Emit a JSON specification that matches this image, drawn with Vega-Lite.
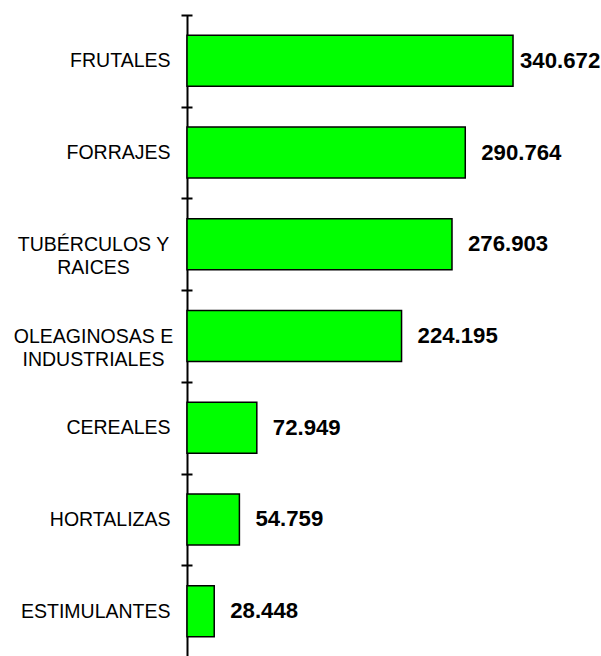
{
  "$schema": "https://vega.github.io/schema/vega-lite/v6.json",
  "width": 414,
  "height": 642,
  "autosize": {"type": "none"},
  "padding": {"left": 187, "top": 15, "right": 0, "bottom": 0},
  "background": "white",
  "config": {"view": {"stroke": null}, "font": "Liberation Sans"},
  "data": {
    "values": [
      {"cat": "FRUTALES", "value": 340.672},
      {"cat": "FORRAJES", "value": 290.764},
      {"cat": "TUBÉRCULOS Y|RAICES", "value": 276.903},
      {"cat": "OLEAGINOSAS E|INDUSTRIALES", "value": 224.195},
      {"cat": "CEREALES", "value": 72.949},
      {"cat": "HORTALIZAS", "value": 54.759},
      {"cat": "ESTIMULANTES", "value": 28.448}
    ]
  },
  "layer": [
    {
      "mark": {"type": "bar", "fill": "#00FF00", "stroke": "black", "strokeWidth": 1.5, "height": {"band": 0.556}},
      "encoding": {
        "y": {
          "field": "cat",
          "type": "nominal",
          "sort": null,
          "scale": {"paddingInner": 0, "paddingOuter": 0},
          "title": null,
          "axis": {
            "orient": "left",
            "offset": -5,
            "domain": false,
            "ticks": true,
            "tickBand": "extent",
            "tickSize": 11,
            "tickWidth": 2,
            "tickColor": "black",
            "labelPadding": 11,
            "labelAlign": "right",
            "labelFont": "Liberation Sans",
            "labelFontSize": 19.5,
            "labelColor": "black",
            "labelLimit": 400,
            "labelExpr": "datum.value && indexof(datum.value, '|') < 0 ? datum.value : ''"
          }
        },
        "x": {
          "field": "value",
          "type": "quantitative",
          "scale": {"domain": [0, 432.6], "nice": false},
          "axis": null
        }
      }
    },
    {
      "mark": {"type": "text", "align": "left", "baseline": "middle", "dx": {"expr": "datum.value > 300 ? 7 : 16"}, "font": "Liberation Sans", "fontSize": 22.2, "fontWeight": "bold", "color": "black"},
      "encoding": {
        "y": {
          "field": "cat",
          "type": "nominal",
          "sort": null,
          "title": null,
          "axis": {
            "orient": "left",
            "offset": 0,
            "domain": true,
            "domainColor": "black",
            "domainWidth": 2,
            "ticks": false,
            "tickSize": 0,
            "tickBand": "extent",
            "labelPadding": 94,
            "labelAlign": "center",
            "labelFont": "Liberation Sans",
            "labelFontSize": 19.5,
            "labelColor": "black",
            "labelLineHeight": 23,
            "labelLimit": 400,
            "labelExpr": "datum.value && indexof(datum.value, '|') >= 0 ? split(datum.value, '|') : ''",
            "grid": false
          }
        },
        "x": {
          "field": "value",
          "type": "quantitative",
          "scale": {"domain": [0, 432.6], "nice": false},
          "axis": null
        },
        "text": {"field": "value", "type": "quantitative", "format": ".3f"}
      }
    }
  ],
  "resolve": {"axis": {"y": "independent"}}
}
